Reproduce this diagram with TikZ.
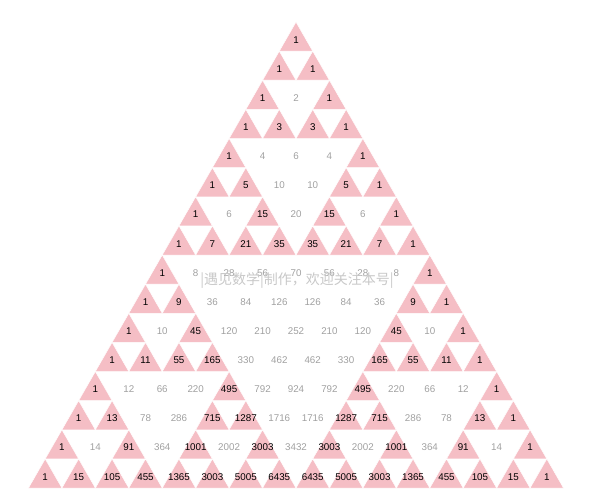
\documentclass[tikz,border=0pt]{standalone}
\usepackage{fontspec}
\setmainfont{Liberation Sans}
\newfontfamily\cjk{Noto Sans CJK SC}
\definecolor{pinktri}{RGB}{245,190,197}
\definecolor{evengray}{RGB}{160,160,160}
\definecolor{wmgray}{RGB}{200,200,200}
\newcount\binval
\tikzset{
  oddtri/.style={fill=pinktri, draw=white, line width=0.5pt},
  oddnum/.style={inner sep=0pt, font=\fontsize{9.8}{11}\selectfont, text=black},
  evennum/.style={inner sep=0pt, font=\fontsize{9.8}{11}\selectfont, text=evengray},
  wmark/.style={inner sep=0pt, font=\cjk\fontsize{14}{16}\selectfont, text=wmgray}
}
\begin{document}
\begin{tikzpicture}[x=1pt,y=-1pt]
\useasboundingbox (0,0) rectangle (591,492);
\foreach \n in {0,...,15}{
  \global\binval=1
  \foreach \k in {0,...,\n}{
    \pgfmathsetmacro\xx{296+(\k-\n/2)*33.44}
    \pgfmathsetmacro\yy{22+\n*29.125}
    \ifodd\binval
      \filldraw[oddtri] (\xx,\yy) -- ++(16.72,29.125) -- ++(-33.44,0) -- cycle;
      \node[oddnum] (c\n-\k) at (\xx,\yy+17.8) {\the\binval};
    \else
      \node[evennum] (c\n-\k) at (\xx,\yy+17.8) {\the\binval};
    \fi
    \global\binval=\numexpr\binval*(\n-\k)/(\k+1)\relax
  }
}
\node[wmark] (wm) at (297,281) {|遇见数学|制作，欢迎关注本号|};
\end{tikzpicture}
\end{document}
